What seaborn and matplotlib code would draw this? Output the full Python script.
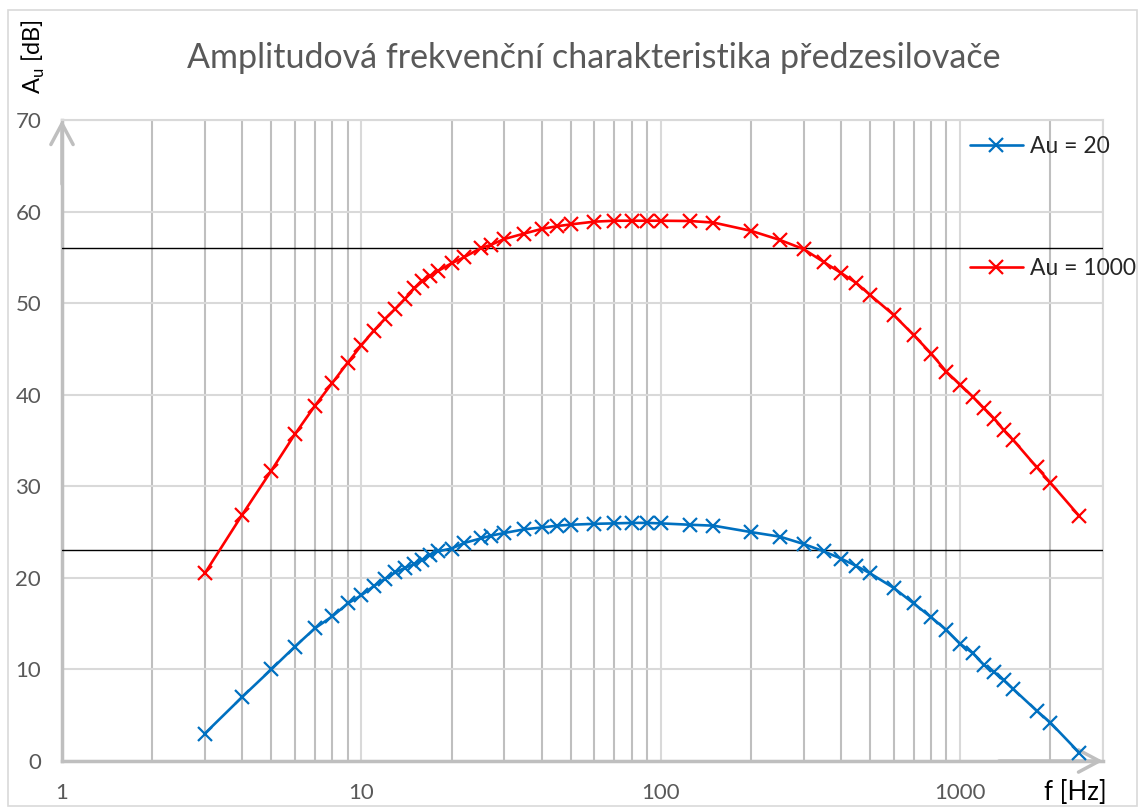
import numpy as np
import pandas as pd
import matplotlib
matplotlib.use("Agg")
import matplotlib.pyplot as plt
import seaborn as sns
from matplotlib.patches import Rectangle
from matplotlib.lines import Line2D
from matplotlib.ticker import FixedLocator, NullFormatter

# 数据
freq = [3, 4, 5, 6, 7, 8, 9, 10, 11, 12, 13, 14, 15, 16, 17, 18, 20, 22, 25, 27,
        30, 35, 40, 45, 50, 60, 70, 80, 90, 100, 125, 150, 200, 250, 300, 350,
        400, 450, 500, 600, 700, 800, 900, 1000, 1100, 1200, 1300, 1400, 1500,
        1800, 2000, 2500]

au20 = [3.0, 7.0, 10.0, 12.5, 14.5, 15.8, 17.2, 18.1, 19.1, 19.9, 20.6, 21.1,
        21.5, 22.0, 22.5, 22.9, 23.2, 23.8, 24.3, 24.6, 24.9, 25.3, 25.5, 25.7,
        25.8, 25.9, 25.95, 26.0, 26.0, 25.95, 25.8, 25.7, 25.0, 24.5, 23.7,
        22.9, 22.1, 21.3, 20.5, 18.9, 17.2, 15.7, 14.3, 12.8, 11.8, 10.5, 9.7,
        8.8, 7.9, 5.5, 4.2, 0.9]

au1000 = [20.5, 26.9, 31.7, 35.7, 38.8, 41.3, 43.5, 45.4, 47.0, 48.3, 49.4, 50.5,
          51.6, 52.4, 53.0, 53.5, 54.35, 55.0, 56.0, 56.35, 57.0, 57.6, 58.1,
          58.4, 58.6, 58.9, 59.0, 59.0, 59.0, 59.0, 58.97, 58.8, 57.9, 56.9,
          55.9, 54.5, 53.3, 52.2, 50.9, 48.7, 46.5, 44.5, 42.5, 41.1, 39.8,
          38.5, 37.4, 36.1, 35.1, 32.1, 30.4, 26.75]

ref_lines = [23, 56]
series_labels = ["Au = 20", "Au = 1000"]
series_colors = ["#0070C0", "#FF0000"]
x_ticks = [1, 10, 100, 1000]
y_ticks = [0, 10, 20, 30, 40, 50, 60, 70]

title = "Amplitudová frekvenční charakteristika předzesilovače"

sns.set_style("white")
plt.rcParams['font.family'] = ['Lato', 'DejaVu Sans']

W, H = 1139, 807
fig = plt.figure(figsize=(W / 100, H / 100), dpi=100)
ax = fig.add_axes([62 / W, 1 - 761 / H, (1103 - 62) / W, (761 - 120) / H])

df = pd.DataFrame({
    "f": freq * 2,
    "Au": au20 + au1000,
    "serie": [series_labels[0]] * len(freq) + [series_labels[1]] * len(freq),
})

for lab, col in zip(series_labels, series_colors):
    sub = df[df["serie"] == lab]
    sns.lineplot(data=sub, x="f", y="Au", ax=ax, color=col, lw=1.9,
                 marker="x", markersize=10, markeredgewidth=1.6,
                 markeredgecolor=col, legend=False, zorder=4)

for y in ref_lines:
    ax.axhline(y, color="black", lw=1.0, zorder=3)

ax.set_xscale("log")
ax.set_xlim(1, 3000)
ax.set_ylim(0, 70)

# 网格
ax.xaxis.set_major_locator(FixedLocator(x_ticks))
ax.set_xticklabels([str(t) for t in x_ticks])
ax.xaxis.set_minor_formatter(NullFormatter())
ax.set_yticks(y_ticks)
ax.grid(which="major", axis="y", color="#d9d9d9", lw=1.5)
ax.grid(which="major", axis="x", color="#d9d9d9", lw=1.5)
ax.grid(which="minor", axis="x", color="#bfbfbf", lw=1.5)
ax.tick_params(which="both", length=0)
ax.tick_params(axis="x", pad=16, labelsize=16, labelcolor="#595959")
ax.tick_params(axis="y", pad=15, labelsize=16, labelcolor="#595959")

for s in ["top", "right"]:
    ax.spines[s].set_color("#d9d9d9")
    ax.spines[s].set_linewidth(1.5)
for s in ["left", "bottom"]:
    ax.spines[s].set_color("#bfbfbf")
    ax.spines[s].set_linewidth(2.5)

# 轴箭头
arrow = dict(arrowstyle="->, head_length=1.5, head_width=0.8", lw=2.5,
             color="#bfbfbf", shrinkA=0, shrinkB=0)
ax.annotate("", xy=(0, 1.0), xytext=(0, 0.9), xycoords="axes fraction",
            arrowprops=arrow, annotation_clip=False)
ax.annotate("", xy=(1.0, 0), xytext=(0.9, 0), xycoords="axes fraction",
            arrowprops=arrow, annotation_clip=False)

ax.set_xlabel("")
ax.set_ylabel("")

fig.text(594 / W, 1 - 58 / H, title, ha="center", va="center",
         fontsize=24.5, color="#595959")
fig.text(33 / W, 1 - 57 / H, r"A$_\mathregular{u}$ [dB]", rotation=90,
         ha="center", va="center", fontsize=17, color="black")
fig.text(1075 / W, 1 - 792 / H, "f [Hz]", ha="center", va="center",
         fontsize=18.5, color="black")

handles = [Line2D([], [], color=c, lw=1.9, marker="x", markersize=10,
                  markeredgewidth=1.6) for c in series_colors]
fig.legend(handles, series_labels, loc="upper left",
           bbox_to_anchor=(970 / W, 1 - 136 / H), frameon=False,
           fontsize=16.5, handlelength=2.3, handletextpad=0.3,
           labelspacing=4.4, borderpad=0, borderaxespad=0)

fig.patches.append(Rectangle((8 / W, 1 / H), (W - 10) / W, (H - 11) / H,
                             transform=fig.transFigure, fill=False,
                             edgecolor="#d9d9d9", lw=1.2))

fig.savefig("out.png", dpi=100)
